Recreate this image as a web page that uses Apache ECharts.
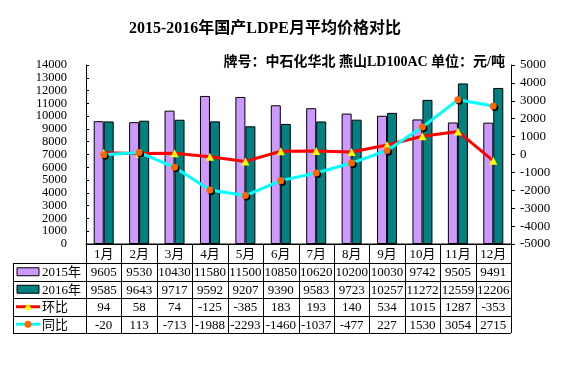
<!DOCTYPE html>
<html><head><meta charset="utf-8">
<script src="https://cdn.jsdelivr.net/npm/echarts@6/dist/echarts.min.js"></script>
<style>html,body{margin:0;padding:0;background:#fff}#c{width:576px;height:365px}</style>
</head><body><div id="c"></div>
<script>
const months = ['1月','2月','3月','4月','5月','6月','7月','8月','9月','10月','11月','12月'];
const seriesNames = ['2015年','2016年','环比','同比'];
const y2015 = [9605,9530,10430,11580,11500,10850,10620,10200,10030,9742,9505,9491];
const y2016 = [9585,9643,9717,9592,9207,9390,9583,9723,10257,11272,12559,12206];
const mom = [94,58,74,-125,-385,183,193,140,534,1015,1287,-353];
const yoy = [-20,113,-713,-1988,-2293,-1460,-1037,-477,227,1530,3054,2715];
const leftAxis = {min:0, max:14000, interval:1000};
const rightAxis = {min:-5000, max:5000, interval:1000};
const titleText = '2015-2016年国产LDPE月平均价格对比';
const subText = '牌号：中石化华北 燕山LD100AC 单位：元/吨';

const FONT = "'Liberation Serif','Noto Sans CJK SC',serif";
const C15 = '#CC99FF', C16 = '#008080', CRED = '#FF0000', CYEL = '#FFFF00', CCYAN = '#00FFFF', CORG = '#FF6600';

const chart = echarts.init(document.getElementById('c'), null, {renderer:'canvas'});
const option = {
  animation:false,
  backgroundColor:'#fff',
  title:[
    {text:titleText, left:260, top:16, textAlign:'center',
     textStyle:{fontFamily:FONT, fontSize:16, fontWeight:'bold', color:'#000'}},
    {text:subText, right:66, top:50,
     textStyle:{fontFamily:FONT, fontSize:14, fontWeight:'bold', color:'#000'}}
  ],
  grid:{left:86, right:65, top:65, bottom:121, containLabel:false},
  xAxis:{type:'category', data:months,
    axisLine:{lineStyle:{color:'#000', width:1}},
    axisTick:{show:false}, axisLabel:{show:false}},
  yAxis:[
    {type:'value', min:leftAxis.min, max:leftAxis.max, interval:leftAxis.interval, position:'left',
     axisLine:{show:true, lineStyle:{color:'#000'}},
     axisTick:{show:true, inside:true, length:3, lineStyle:{color:'#000'}},
     axisLabel:{fontFamily:FONT, fontSize:12.5, lineHeight:11, color:'#000', margin:19, showMinLabel:true, showMaxLabel:true,
       hideOverlap:false, formatter:v=>String(v)},
     splitLine:{show:false}},
    {type:'value', min:rightAxis.min, max:rightAxis.max, interval:rightAxis.interval, position:'right',
     axisLine:{show:true, lineStyle:{color:'#000'}},
     axisTick:{show:true, inside:false, length:4, lineStyle:{color:'#000'}},
     axisLabel:{fontFamily:FONT, fontSize:13, color:'#000', margin:9, showMinLabel:true, showMaxLabel:true,
       hideOverlap:false, formatter:v=>String(v)},
     splitLine:{show:false}}
  ],
  series:[
    {name:seriesNames[0], type:'bar', data:y2015, barWidth:10, barGap:'0%',
     itemStyle:{color:C15, borderColor:'#000', borderWidth:1}},
    {name:seriesNames[1], type:'bar', data:y2016, barWidth:10, barGap:'0%',
     itemStyle:{color:C16, borderColor:'#000', borderWidth:1}},
    {name:seriesNames[2], type:'line', yAxisIndex:1, data:mom, z:5,
     lineStyle:{color:CRED, width:3}, symbol:'triangle', symbolSize:8,
     itemStyle:{color:CYEL, borderWidth:0}},
    {name:seriesNames[3], type:'line', yAxisIndex:1, data:yoy, z:6,
     lineStyle:{color:CCYAN, width:3}, symbol:'circle', symbolSize:7,
     itemStyle:{color:CORG, borderWidth:0, shadowColor:'#000', shadowOffsetX:1.5, shadowOffsetY:1.5, shadowBlur:0}}
  ]
};
chart.setOption(option);

const c0 = chart.convertToPixel({xAxisIndex:0}, 0);
const c1 = chart.convertToPixel({xAxisIndex:0}, 1);
const colW = c1 - c0;
const xL = c0 - colW/2;
const xR = xL + colW*months.length;
const yTop = chart.convertToPixel({yAxisIndex:0}, 0);
const labelLeft = 13;
const headH = 19, rowH = 17.5;
const rows = [y2015, y2016, mom, yoy];
const g = [];
const line = (x1,y1,x2,y2)=>g.push({type:'line', shape:{x1,y1,x2,y2}, style:{stroke:'#000', lineWidth:1}, silent:true});
const yBottom = yTop + headH + rowH*rows.length;
line(xL, yTop, xR, yTop);
for (let r=0; r<=rows.length; r++){ const y = Math.round(yTop+headH+rowH*r)+0.5; line(labelLeft, y, xR, y); }
line(labelLeft+0.5, yTop+headH, labelLeft+0.5, yBottom);
for (let i=0;i<=months.length;i++){ const x = Math.round(xL+colW*i)+0.5; line(x, yTop, x, yBottom); }
months.forEach((m,i)=>g.push({type:'text', x:xL+colW*(i+0.5), y:yTop+headH/2+1,
  style:{text:m, fill:'#000', font:'13px '+FONT, textAlign:'center', textVerticalAlign:'middle'}}));
rows.forEach((arr,r)=>arr.forEach((v,i)=>g.push({type:'text', x:xL+colW*(i+0.5), y:yTop+headH+rowH*(r+0.5)+1,
  style:{text:String(v), fill:'#000', font:'13px '+FONT, textAlign:'center', textVerticalAlign:'middle'}})));
rows.forEach((arr,r)=>{
  const yc = yTop+headH+rowH*(r+0.5);
  if (r<2){
    g.push({type:'rect', shape:{x:17, y:yc-4, width:22, height:8}, style:{fill:r===0?C15:C16, stroke:'#000', lineWidth:1}});
  } else if (r===2){
    g.push({type:'line', shape:{x1:16,y1:yc,x2:40,y2:yc}, style:{stroke:CRED, lineWidth:3}});
    g.push({type:'polygon', shape:{points:[[28,yc-4],[24,yc+3],[32,yc+3]]}, style:{fill:CYEL}});
  } else {
    g.push({type:'line', shape:{x1:16,y1:yc,x2:40,y2:yc}, style:{stroke:CCYAN, lineWidth:3}});
    g.push({type:'circle', shape:{cx:28, cy:yc, r:3.5}, style:{fill:CORG}});
  }
  g.push({type:'text', x:42, y:yc+1, style:{text:seriesNames[r], fill:'#000', font:'13px '+FONT, textAlign:'left', textVerticalAlign:'middle'}});
});
chart.setOption({graphic:{elements:g}});
</script>
</body></html>
